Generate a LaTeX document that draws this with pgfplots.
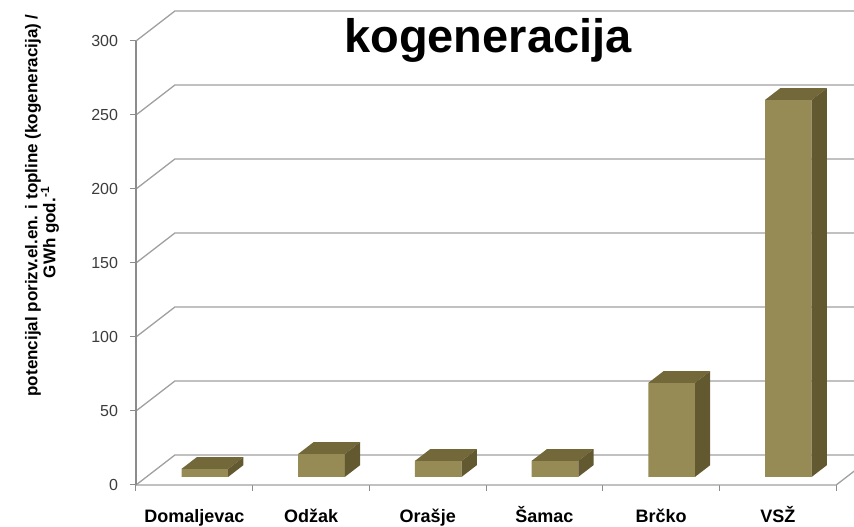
\documentclass[border=0pt]{standalone}
\usepackage{pgfplots}
\pgfplotsset{compat=1.18}
\usepackage{pgfplotstable}
\usepackage{fontspec}
\setmainfont{Liberation Sans}
\definecolor{barfront}{RGB}{150,139,85}
\definecolor{bartop}{RGB}{114,104,57}
\definecolor{barside}{RGB}{98,89,49}
\definecolor{gridc}{RGB}{160,160,160}
\definecolor{axisc}{RGB}{140,140,140}
\definecolor{labc}{RGB}{60,60,60}

\pgfplotstableread{
x v
0 5.4
1 15.5
2 10.8
3 10.8
4 63.5
5 254.7
}\datatable

\begin{document}
\begin{tikzpicture}
\begin{axis}[
  x=116.7bp, y=1.48bp,
  xmin=-0.5, xmax=5.6525, ymin=0, ymax=327.7,
  clip=false,
  axis lines*=left,
  axis line style={draw=none},
  tick align=outside,
  major tick length=6bp,
  tick style={draw=axisc, line width=1bp},
  ytick={0,50,...,300},
  yticklabel style={font=\fontsize{16bp}{19bp}\selectfont, text=labc, xshift=-8.5bp},
  /pgf/number format/assume math mode=true,
  xtick={-0.5,0.5,...,5.5}, xticklabels={},
  extra x ticks={0,1,2,3,4,5},
  extra x tick labels={Domaljevac,Odžak,Orašje,Šamac,Brčko,VSŽ},
  extra x tick style={major tick length=0pt,
    tick label style={font=\bfseries\fontsize{18bp}{20bp}\selectfont, text=black, anchor=base, yshift=-37.7bp}},
]
% back wall gridlines with left-wall diagonals
\addplot[gridc, line width=1.3bp, mark=none] coordinates {(-0.5,0) (-0.166,20.3) (5.834,20.3)};
\addplot[gridc, line width=1.3bp, mark=none] coordinates {(-0.5,50) (-0.166,70.3) (5.834,70.3)};
\addplot[gridc, line width=1.3bp, mark=none] coordinates {(-0.5,100) (-0.166,120.3) (5.834,120.3)};
\addplot[gridc, line width=1.3bp, mark=none] coordinates {(-0.5,150) (-0.166,170.3) (5.834,170.3)};
\addplot[gridc, line width=1.3bp, mark=none] coordinates {(-0.5,200) (-0.166,220.3) (5.834,220.3)};
\addplot[gridc, line width=1.3bp, mark=none] coordinates {(-0.5,250) (-0.166,270.3) (5.834,270.3)};
\addplot[gridc, line width=1.3bp, mark=none] coordinates {(-0.5,300) (-0.166,320.3) (5.834,320.3)};
% floor front edge and right edge
\addplot[gridc, line width=1.3bp, mark=none] coordinates {(-0.5,0) (5.5,0) (5.834,20.3)};
% front vertical axis
\addplot[axisc, line width=1.5bp, mark=none] coordinates {(-0.5,0) (-0.5,300)};
% title and axis label
\node[anchor=base, font=\bfseries\fontsize{47bp}{50bp}\selectfont] at (axis cs:2.516,291.9) {kogeneracija};
\node[rotate=90, anchor=center, font=\bfseries\fontsize{17bp}{19bp}\selectfont] at (axis cs:-1.3826,188.9) {potencijal porizv.el.en. i topline (kogeneracija) /};
\node[rotate=90, anchor=center, font=\bfseries\fontsize{17bp}{19bp}\selectfont] at (axis cs:-1.237,170.6) {GWh god.\textsuperscript{-1}};
\coordinate (bbsw) at (axis cs:-1.66538,-28.378);
\coordinate (bbne) at (axis cs:5.65253,327.70);
\end{axis}
\begin{axis}[
  x=116.7bp, y=1.48bp,
  xmin=-0.5, xmax=5.6525, ymin=-5.48, ymax=322.22,
  hide axis, clip=false,
]
\addplot[ybar, bar width=0.4, bar shift=0.0902, fill=barfront, draw=none] table[x=x,y=v]{\datatable};
\pgfplotsinvokeforeach{0,...,5}{
  \pgfplotstablegetelem{#1}{v}\of\datatable
  \pgfmathsetmacro\xa{#1-0.2+0.0902}
  \pgfmathsetmacro\xb{#1+0.2+0.0902}
  \pgfmathsetmacro\xc{\xa+0.1303}
  \pgfmathsetmacro\xd{\xb+0.1303}
  \pgfmathsetmacro\yt{\pgfplotsretval}
  \pgfmathsetmacro\ytt{\pgfplotsretval+7.92}
  \edef\temp{%
    \noexpand\addplot[fill=bartop, draw=none] coordinates {(\xa,\yt) (\xb,\yt) (\xd,\ytt) (\xc,\ytt)} --cycle;
    \noexpand\addplot[fill=barside, draw=none] coordinates {(\xb,0) (\xd,7.92) (\xd,\ytt) (\xb,\yt)} --cycle;
  }\temp
}
\end{axis}
\pgfresetboundingbox
\useasboundingbox (bbsw) rectangle (bbne);
\end{tikzpicture}
\end{document}
